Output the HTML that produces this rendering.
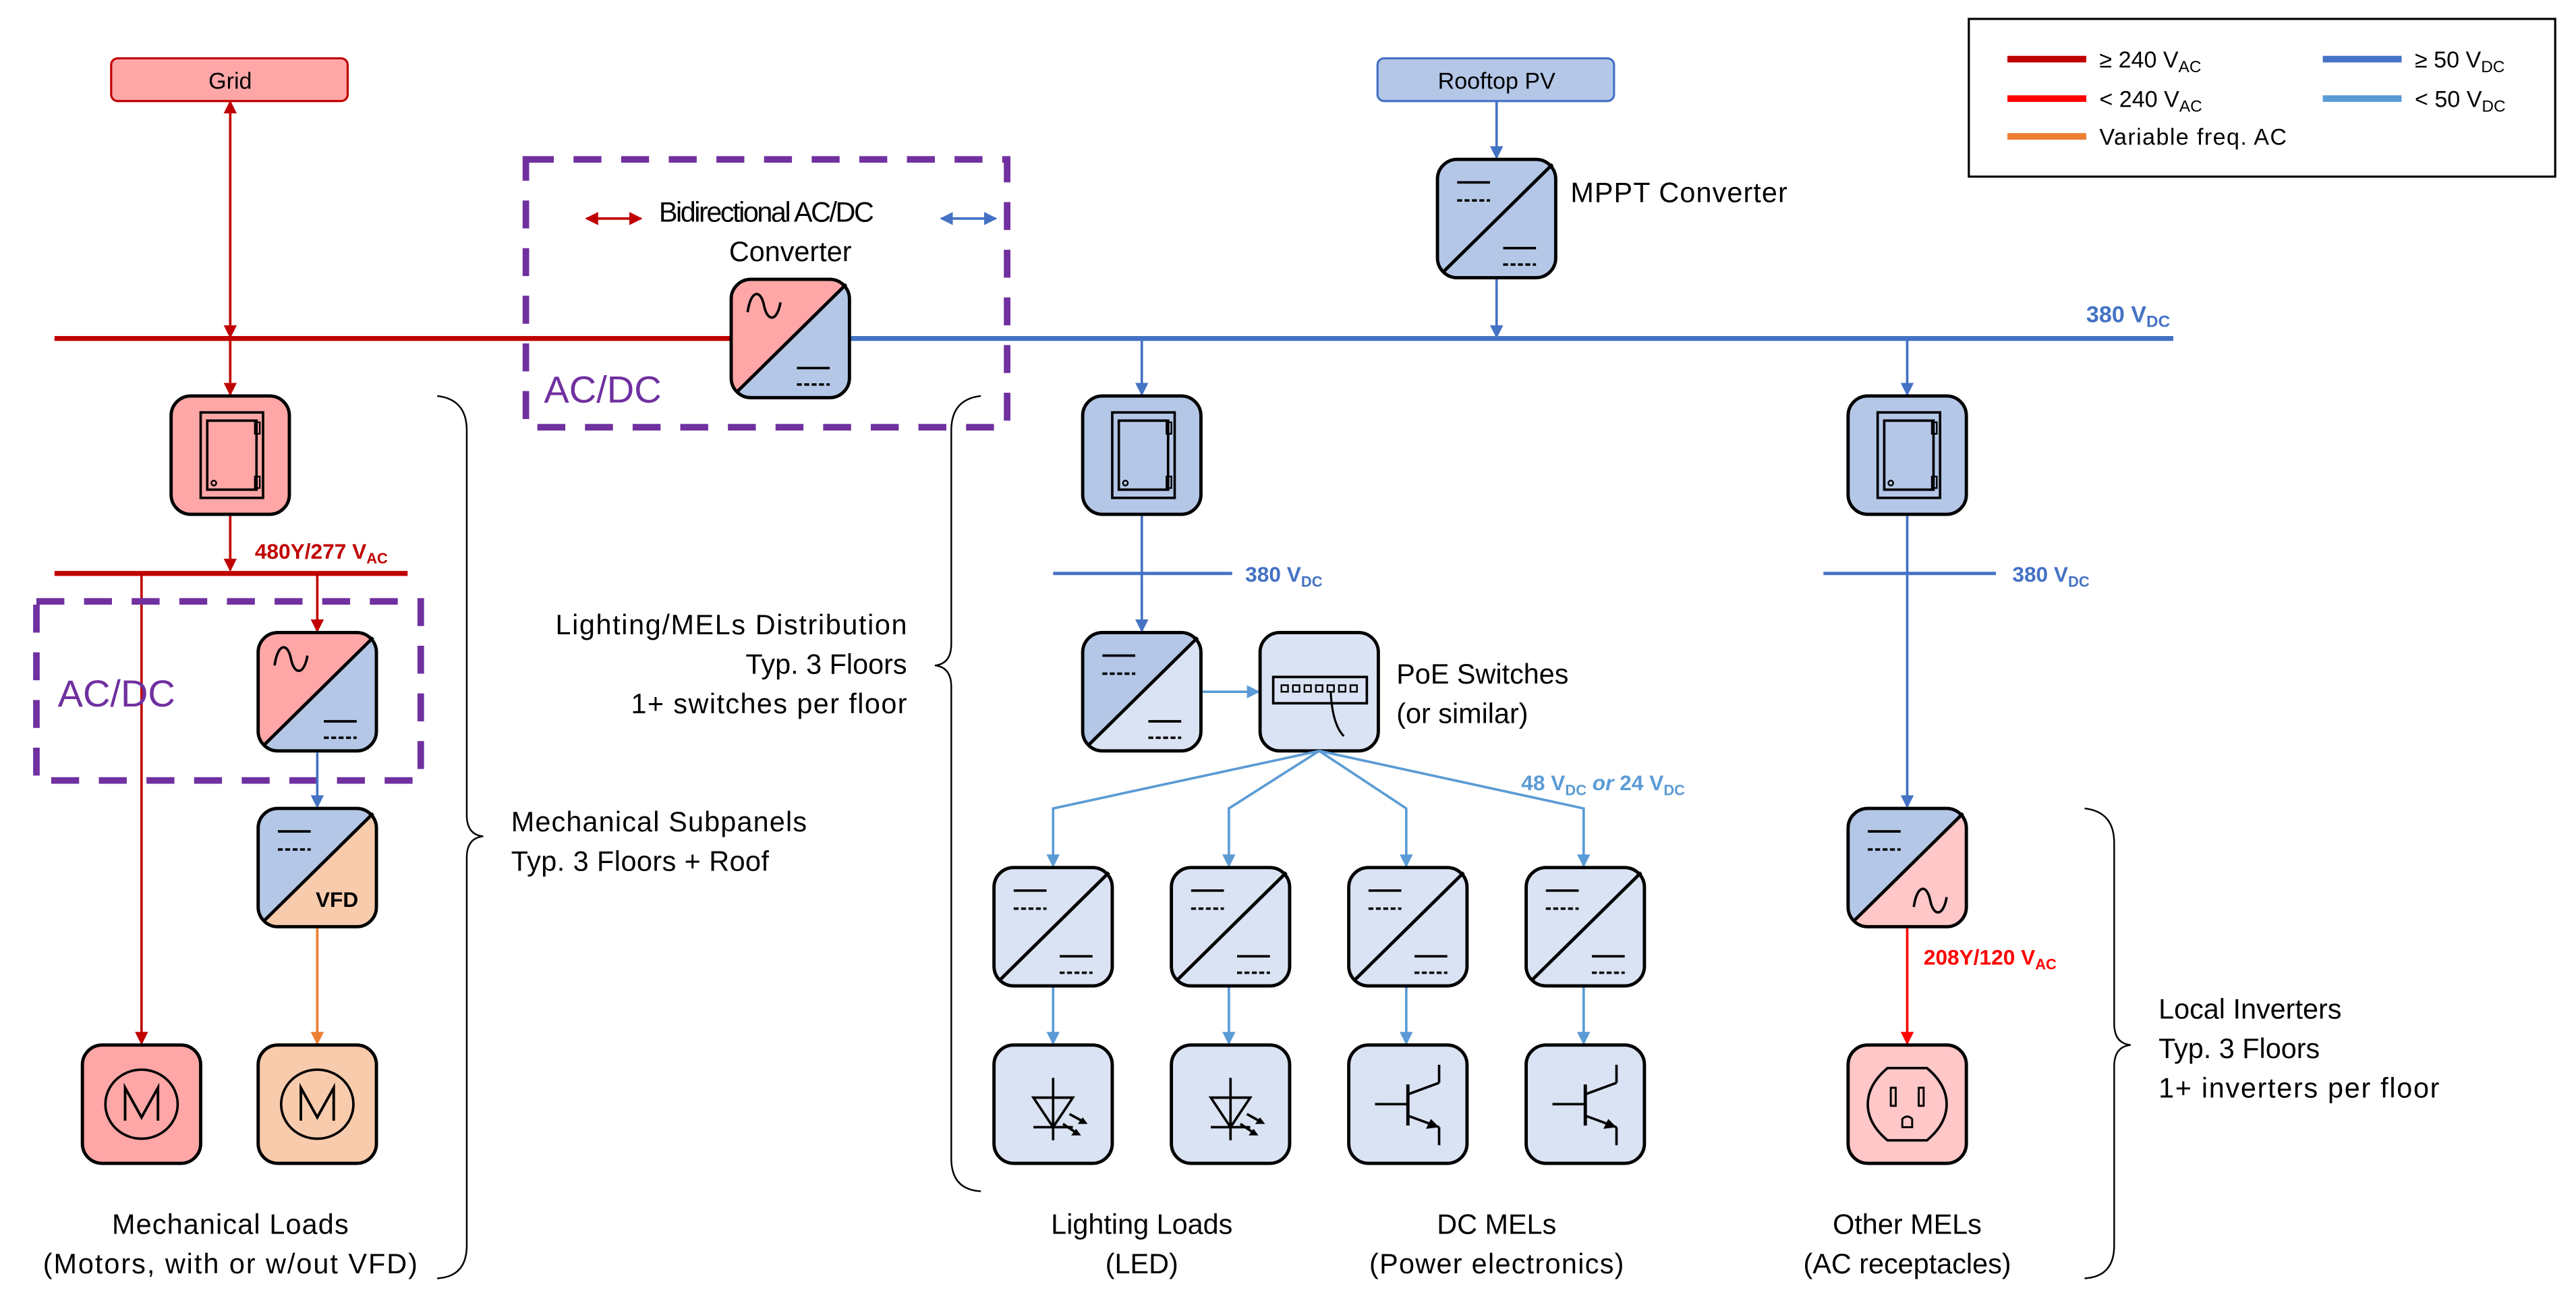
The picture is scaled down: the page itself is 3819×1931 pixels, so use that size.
<!DOCTYPE html>
<html><head><meta charset="utf-8"><style>
html,body{margin:0;padding:0;background:#fff;}
svg{display:block;}
text{font-family:"Liberation Sans",sans-serif;}
</style></head><body>
<svg width="3819" height="1931" viewBox="0 0 1568 793" xmlns="http://www.w3.org/2000/svg">
<defs>
<marker id="aDR" markerWidth="8" markerHeight="8" refX="7" refY="4" orient="auto-start-reverse" markerUnits="userSpaceOnUse"><path d="M0,0 L8,4 L0,8z" fill="#c00000"/></marker>
<marker id="aR" markerWidth="8" markerHeight="8" refX="7" refY="4" orient="auto-start-reverse" markerUnits="userSpaceOnUse"><path d="M0,0 L8,4 L0,8z" fill="#ff0000"/></marker>
<marker id="aB" markerWidth="8" markerHeight="8" refX="7" refY="4" orient="auto-start-reverse" markerUnits="userSpaceOnUse"><path d="M0,0 L8,4 L0,8z" fill="#4472c4"/></marker>
<marker id="aLB" markerWidth="8" markerHeight="8" refX="7" refY="4" orient="auto-start-reverse" markerUnits="userSpaceOnUse"><path d="M0,0 L8,4 L0,8z" fill="#5b9bd5"/></marker>
<marker id="aO" markerWidth="8" markerHeight="8" refX="7" refY="4" orient="auto-start-reverse" markerUnits="userSpaceOnUse"><path d="M0,0 L8,4 L0,8z" fill="#ed7d31"/></marker>
<clipPath id="cc"><rect x="0" y="0" width="72" height="72" rx="12"/></clipPath>
<g id="dcTL"><line x1="12" y1="14" x2="32" y2="14" stroke="#000" stroke-width="1.5"/><line x1="12" y1="25" x2="32" y2="25" stroke="#000" stroke-width="1.5" stroke-dasharray="3,1.5"/></g>
<g id="dcBR"><line x1="40" y1="54" x2="60" y2="54" stroke="#000" stroke-width="1.5"/><line x1="40" y1="64" x2="60" y2="64" stroke="#000" stroke-width="1.5" stroke-dasharray="3,1.5"/></g>
<path id="acTL" d="M10,20 C12,6 18,6 20,16 C22,26 28,26 30,14" fill="none" stroke="#000" stroke-width="1.5"/>
<path id="acBR" d="M40,60 C42,46 48,46 50,56 C52,66 58,66 60,54" fill="none" stroke="#000" stroke-width="1.5"/>
<g id="frame"><line x1="3" y1="69" x2="70" y2="3" stroke="#000" stroke-width="2"/><rect x="0" y="0" width="72" height="72" rx="12" fill="none" stroke="#000" stroke-width="2"/></g>
<g id="panel"><rect x="18" y="10" width="38" height="52" fill="none" stroke="#000" stroke-width="1.5"/><rect x="22" y="15" width="30" height="42" fill="none" stroke="#000" stroke-width="1.5"/><rect x="51" y="16" width="3" height="7" fill="none" stroke="#000" stroke-width="1"/><rect x="51" y="49" width="3" height="7" fill="none" stroke="#000" stroke-width="1"/><circle cx="26" cy="53" r="1.5" fill="none" stroke="#000" stroke-width="1"/><rect x="0" y="0" width="72" height="72" rx="12" fill="none" stroke="#000" stroke-width="2"/></g>
<g id="motor"><ellipse cx="36" cy="36" rx="22" ry="21" fill="none" stroke="#000" stroke-width="1.5"/><path d="M26,46 V26 L36,44 L46,26 V46" fill="none" stroke="#000" stroke-width="1.6"/><rect x="0" y="0" width="72" height="72" rx="12" fill="none" stroke="#000" stroke-width="2"/></g>
<g id="led"><line x1="36" y1="20" x2="36" y2="58" stroke="#000" stroke-width="1.5"/><path d="M24,32 H48 L36,50z" fill="none" stroke="#000" stroke-width="1.5"/><line x1="24" y1="50" x2="48" y2="50" stroke="#000" stroke-width="1.5"/><line x1="46" y1="42" x2="55" y2="47" stroke="#000" stroke-width="1.5"/><path d="M57,48 L51,48 L54,44z" fill="#000"/><line x1="42" y1="48" x2="51" y2="54" stroke="#000" stroke-width="1.5"/><path d="M53,55 L47,55 L50,51z" fill="#000"/><rect x="0" y="0" width="72" height="72" rx="12" fill="none" stroke="#000" stroke-width="2"/></g>
<g id="bjt"><line x1="16" y1="36" x2="36" y2="36" stroke="#000" stroke-width="1.5"/><line x1="36" y1="24" x2="36" y2="49" stroke="#000" stroke-width="2"/><line x1="36" y1="30" x2="55" y2="23" stroke="#000" stroke-width="1.5"/><line x1="55" y1="23" x2="55" y2="12" stroke="#000" stroke-width="1.5"/><line x1="36" y1="43" x2="55" y2="50" stroke="#000" stroke-width="1.5"/><path d="M55,50 L47,51 L50,45z" fill="#000"/><line x1="55" y1="50" x2="55" y2="61" stroke="#000" stroke-width="1.5"/><rect x="0" y="0" width="72" height="72" rx="12" fill="none" stroke="#000" stroke-width="2"/></g>
</defs>

<!-- legend -->
<rect x="1198.5" y="11.5" width="357" height="96" fill="#fff" stroke="#000" stroke-width="1.3"/>
<g stroke-width="4">
<line x1="1222" y1="36" x2="1270" y2="36" stroke="#c00000"/>
<line x1="1222" y1="60" x2="1270" y2="60" stroke="#ff0000"/>
<line x1="1222" y1="83" x2="1270" y2="83" stroke="#ed7d31"/>
<line x1="1414" y1="36" x2="1462" y2="36" stroke="#4472c4"/>
<line x1="1414" y1="60" x2="1462" y2="60" stroke="#5b9bd5"/>
</g>
<g font-size="14">
<text x="1278" y="41">≥ 240 V<tspan font-size="10" dy="3">AC</tspan></text>
<text x="1278" y="65">&lt; 240 V<tspan font-size="10" dy="3">AC</tspan></text>
<text x="1278" y="88" textLength="114">Variable freq. AC</text>
<text x="1470" y="41">≥ 50 V<tspan font-size="10" dy="3">DC</tspan></text>
<text x="1470" y="65">&lt; 50 V<tspan font-size="10" dy="3">DC</tspan></text>
</g>

<!-- Grid -->
<rect x="67.5" y="35.5" width="144" height="26" rx="4" fill="#ffa7a7" stroke="#c00000" stroke-width="1.3"/>
<text x="140" y="54" font-size="14" text-anchor="middle">Grid</text>
<line x1="140" y1="62" x2="140" y2="205" stroke="#c00000" stroke-width="1.5" marker-start="url(#aDR)" marker-end="url(#aDR)"/>
<line x1="33" y1="206" x2="446" y2="206" stroke="#c00000" stroke-width="3"/>
<line x1="516" y1="206" x2="1323" y2="206" stroke="#4472c4" stroke-width="3"/>
<text x="1270" y="196" font-size="14" font-weight="bold" fill="#4472c4">380 V<tspan font-size="10" dy="3">DC</tspan></text>

<!-- Rooftop PV -->
<rect x="838.5" y="35.5" width="144" height="26" rx="4" fill="#b4c7e7" stroke="#4472c4" stroke-width="1.3"/>
<text x="911" y="54" font-size="14" text-anchor="middle">Rooftop PV</text>
<line x1="911" y1="62" x2="911" y2="96" stroke="#4472c4" stroke-width="1.5" marker-end="url(#aB)"/>
<g transform="translate(875,97)"><rect width="72" height="72" rx="12" fill="#b4c7e7"/><use href="#dcTL"/><use href="#dcBR"/><use href="#frame"/></g>
<text x="956" y="123" font-size="17" textLength="132">MPPT Converter</text>
<line x1="911" y1="170" x2="911" y2="205" stroke="#4472c4" stroke-width="1.5" marker-end="url(#aB)"/>

<!-- bidirectional -->
<g transform="translate(445,170)"><rect width="72" height="72" rx="12" fill="#b4c7e7"/><polygon points="0,0 72,0 0,72" fill="#ffa7a7" clip-path="url(#cc)"/><use href="#acTL"/><use href="#dcBR"/><use href="#frame"/></g>
<rect x="320" y="97" width="293" height="163" fill="none" stroke="#7030a0" stroke-width="4" stroke-dasharray="17,12"/>
<text x="331" y="245" font-size="23" fill="#7030a0">AC/DC</text>
<text x="401" y="135" font-size="17" textLength="131">Bidirectional AC/DC</text>
<text x="481" y="159" font-size="17" text-anchor="middle">Converter</text>
<line x1="357" y1="133" x2="390" y2="133" stroke="#c00000" stroke-width="1.5" marker-start="url(#aDR)" marker-end="url(#aDR)"/>
<line x1="573" y1="133" x2="606" y2="133" stroke="#4472c4" stroke-width="1.5" marker-start="url(#aB)" marker-end="url(#aB)"/>

<!-- left side -->
<line x1="140" y1="207" x2="140" y2="240" stroke="#c00000" stroke-width="1.5" marker-end="url(#aDR)"/>
<g transform="translate(104,241)"><rect width="72" height="72" rx="12" fill="#ffa7a7"/><use href="#panel"/></g>
<line x1="140" y1="314" x2="140" y2="347" stroke="#c00000" stroke-width="1.5" marker-end="url(#aDR)"/>
<text x="155" y="340" font-size="13" font-weight="bold" fill="#c00000">480Y/277 V<tspan font-size="9" dy="3">AC</tspan></text>
<line x1="33" y1="349" x2="248" y2="349" stroke="#c00000" stroke-width="3"/>
<line x1="86" y1="349" x2="86" y2="635" stroke="#c00000" stroke-width="1.5" marker-end="url(#aDR)"/>
<line x1="193" y1="349" x2="193" y2="384" stroke="#c00000" stroke-width="1.5" marker-end="url(#aDR)"/>
<g transform="translate(157,385)"><rect width="72" height="72" rx="12" fill="#b4c7e7"/><polygon points="0,0 72,0 0,72" fill="#ffa7a7" clip-path="url(#cc)"/><use href="#acTL"/><use href="#dcBR"/><use href="#frame"/></g>
<rect x="22" y="366" width="234" height="109" fill="none" stroke="#7030a0" stroke-width="4" stroke-dasharray="17,12"/>
<text x="35" y="430" font-size="23" fill="#7030a0">AC/DC</text>
<line x1="193" y1="458" x2="193" y2="491" stroke="#4472c4" stroke-width="1.5" marker-end="url(#aB)"/>
<g transform="translate(157,492)"><rect width="72" height="72" rx="12" fill="#f8cbad"/><polygon points="0,0 72,0 0,72" fill="#b4c7e7" clip-path="url(#cc)"/><use href="#dcTL"/><text x="48" y="60" font-size="13" text-anchor="middle" font-weight="bold">VFD</text><use href="#frame"/></g>
<line x1="193" y1="565" x2="193" y2="635" stroke="#ed7d31" stroke-width="1.5" marker-end="url(#aO)"/>
<g transform="translate(50,636)"><rect width="72" height="72" rx="12" fill="#ffa7a7"/><use href="#motor"/></g>
<g transform="translate(157,636)"><rect width="72" height="72" rx="12" fill="#f8cbad"/><use href="#motor"/></g>
<text x="140" y="751" font-size="17" text-anchor="middle" textLength="144">Mechanical Loads</text>
<text x="140" y="775" font-size="17" text-anchor="middle" textLength="228">(Motors, with or w/out VFD)</text>

<!-- braces -->
<path d="M266,241 Q284,243 284,262 L284,496 Q284,508 294,509 Q284,510 284,522 L284,758 Q284,777 266,778" fill="none" stroke="#000" stroke-width="1"/>
<text x="311" y="506" font-size="17" textLength="180">Mechanical Subpanels</text>
<text x="311" y="530" font-size="17" textLength="157">Typ. 3 Floors + Roof</text>
<path d="M597,241 Q579,243 579,262 L579,392 Q579,404 569,405 Q579,406 579,418 L579,705 Q579,724 597,725" fill="none" stroke="#000" stroke-width="1"/>
<text x="338" y="386" font-size="17" textLength="214">Lighting/MELs Distribution</text>
<text x="552" y="410" font-size="17" text-anchor="end">Typ. 3 Floors</text>
<text x="384" y="434" font-size="17" textLength="168">1+ switches per floor</text>
<path d="M1269,492 Q1287,494 1287,513 L1287,623 Q1287,635 1297,636 Q1287,637 1287,649 L1287,758 Q1287,777 1269,778" fill="none" stroke="#000" stroke-width="1"/>
<text x="1314" y="620" font-size="17">Local Inverters</text>
<text x="1314" y="644" font-size="17">Typ. 3 Floors</text>
<text x="1314" y="668" font-size="17" textLength="171">1+ inverters per floor</text>

<!-- middle -->
<line x1="695" y1="207" x2="695" y2="240" stroke="#4472c4" stroke-width="1.5" marker-end="url(#aB)"/>
<g transform="translate(659,241)"><rect width="72" height="72" rx="12" fill="#b4c7e7"/><use href="#panel"/></g>
<line x1="641" y1="349" x2="750" y2="349" stroke="#4472c4" stroke-width="2"/>
<line x1="695" y1="314" x2="695" y2="384" stroke="#4472c4" stroke-width="1.5" marker-end="url(#aB)"/>
<text x="758" y="354" font-size="13" font-weight="bold" fill="#4472c4">380 V<tspan font-size="9" dy="3">DC</tspan></text>
<g transform="translate(659,385)"><rect width="72" height="72" rx="12" fill="#dae3f3"/><polygon points="0,0 72,0 0,72" fill="#b4c7e7" clip-path="url(#cc)"/><use href="#dcTL"/><use href="#dcBR"/><use href="#frame"/></g>
<line x1="732" y1="421" x2="766" y2="421" stroke="#5b9bd5" stroke-width="1.5" marker-end="url(#aLB)"/>
<g transform="translate(767,385)"><rect width="72" height="72" rx="12" fill="#dae3f3" stroke="#000" stroke-width="2"/><rect x="8" y="27" width="57" height="16" fill="none" stroke="#000" stroke-width="1.5"/>
<g fill="none" stroke="#000" stroke-width="1"><rect x="13" y="32" width="4" height="4"/><rect x="20" y="32" width="4" height="4"/><rect x="27" y="32" width="4" height="4"/><rect x="34" y="32" width="4" height="4"/><rect x="41" y="32" width="4" height="4"/><rect x="48" y="32" width="4" height="4"/><rect x="55" y="32" width="4" height="4"/></g>
<path d="M43,36 Q44,56 51,63" fill="none" stroke="#000" stroke-width="1.3"/></g>
<text x="850" y="416" font-size="17">PoE Switches</text>
<text x="850" y="440" font-size="17">(or similar)</text>
<g fill="none" stroke="#5b9bd5" stroke-width="1.5">
<path d="M803,457 L641,492 L641,527" marker-end="url(#aLB)"/>
<path d="M803,457 L748,492 L748,527" marker-end="url(#aLB)"/>
<path d="M803,457 L856,492 L856,527" marker-end="url(#aLB)"/>
<path d="M803,457 L964,492 L964,527" marker-end="url(#aLB)"/>
<line x1="641" y1="601" x2="641" y2="635" marker-end="url(#aLB)"/>
<line x1="748" y1="601" x2="748" y2="635" marker-end="url(#aLB)"/>
<line x1="856" y1="601" x2="856" y2="635" marker-end="url(#aLB)"/>
<line x1="964" y1="601" x2="964" y2="635" marker-end="url(#aLB)"/>
</g>
<text x="926" y="481" font-size="13" font-weight="bold" fill="#5b9bd5">48 V<tspan font-size="9" dy="3">DC</tspan><tspan dy="-3" font-style="italic"> or </tspan>24 V<tspan font-size="9" dy="3">DC</tspan></text>
<g transform="translate(605,528)"><rect width="72" height="72" rx="12" fill="#dae3f3"/><use href="#dcTL"/><use href="#dcBR"/><use href="#frame"/></g>
<g transform="translate(713,528)"><rect width="72" height="72" rx="12" fill="#dae3f3"/><use href="#dcTL"/><use href="#dcBR"/><use href="#frame"/></g>
<g transform="translate(821,528)"><rect width="72" height="72" rx="12" fill="#dae3f3"/><use href="#dcTL"/><use href="#dcBR"/><use href="#frame"/></g>
<g transform="translate(929,528)"><rect width="72" height="72" rx="12" fill="#dae3f3"/><use href="#dcTL"/><use href="#dcBR"/><use href="#frame"/></g>
<g transform="translate(605,636)"><rect width="72" height="72" rx="12" fill="#dae3f3"/><use href="#led"/></g>
<g transform="translate(713,636)"><rect width="72" height="72" rx="12" fill="#dae3f3"/><use href="#led"/></g>
<g transform="translate(821,636)"><rect width="72" height="72" rx="12" fill="#dae3f3"/><use href="#bjt"/></g>
<g transform="translate(929,636)"><rect width="72" height="72" rx="12" fill="#dae3f3"/><use href="#bjt"/></g>
<text x="695" y="751" font-size="17" text-anchor="middle">Lighting Loads</text>
<text x="695" y="775" font-size="17" text-anchor="middle">(LED)</text>
<text x="911" y="751" font-size="17" text-anchor="middle">DC MELs</text>
<text x="911" y="775" font-size="17" text-anchor="middle" textLength="155">(Power electronics)</text>

<!-- right -->
<line x1="1161" y1="207" x2="1161" y2="240" stroke="#4472c4" stroke-width="1.5" marker-end="url(#aB)"/>
<g transform="translate(1125,241)"><rect width="72" height="72" rx="12" fill="#b4c7e7"/><use href="#panel"/></g>
<line x1="1110" y1="349" x2="1215" y2="349" stroke="#4472c4" stroke-width="2"/>
<line x1="1161" y1="314" x2="1161" y2="491" stroke="#4472c4" stroke-width="1.5" marker-end="url(#aB)"/>
<text x="1225" y="354" font-size="13" font-weight="bold" fill="#4472c4">380 V<tspan font-size="9" dy="3">DC</tspan></text>
<g transform="translate(1125,492)"><rect width="72" height="72" rx="12" fill="#ffc7c7"/><polygon points="0,0 72,0 0,72" fill="#b4c7e7" clip-path="url(#cc)"/><use href="#dcTL"/><use href="#acBR"/><use href="#frame"/></g>
<line x1="1161" y1="565" x2="1161" y2="635" stroke="#ff0000" stroke-width="1.5" marker-end="url(#aR)"/>
<text x="1171" y="587" font-size="13" font-weight="bold" fill="#ff0000">208Y/120 V<tspan font-size="9" dy="3">AC</tspan></text>
<g transform="translate(1125,636)"><rect width="72" height="72" rx="12" fill="#ffc7c7" stroke="#000" stroke-width="2"/>
<path d="M24,14 H48 Q60,24 60,36 Q60,48 48,58 H24 Q12,48 12,36 Q12,24 24,14z" fill="none" stroke="#000" stroke-width="1.5"/>
<rect x="26" y="26" width="3" height="11" fill="none" stroke="#000" stroke-width="1.2"/><rect x="43" y="26" width="3" height="11" fill="none" stroke="#000" stroke-width="1.2"/>
<path d="M33,50 V45 Q36,42 39,45 V50z" fill="none" stroke="#000" stroke-width="1.2"/></g>
<text x="1161" y="751" font-size="17" text-anchor="middle">Other MELs</text>
<text x="1161" y="775" font-size="17" text-anchor="middle">(AC receptacles)</text>
</svg>
</body></html>
